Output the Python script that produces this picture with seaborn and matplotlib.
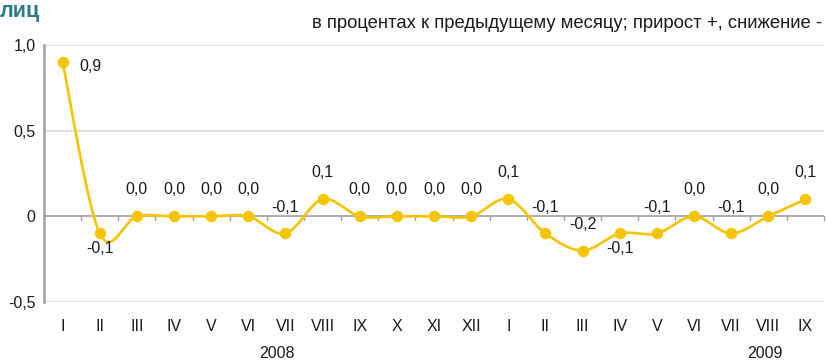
import numpy as np
import pandas as pd
import matplotlib
matplotlib.use("Agg")
import matplotlib.pyplot as plt
from matplotlib.path import Path
from matplotlib.patches import PathPatch
import seaborn as sns

months = ["I", "II", "III", "IV", "V", "VI", "VII", "VIII", "IX", "X", "XI", "XII",
          "I", "II", "III", "IV", "V", "VI", "VII", "VIII", "IX"]
values = [0.9, -0.1, 0.0, 0.0, 0.0, 0.0, -0.1, 0.1, 0.0, 0.0, 0.0, 0.0,
          0.1, -0.1, -0.2, -0.1, -0.1, 0.0, -0.1, 0.0, 0.1]
# where each value label sits relative to its point
label_pos = ["right", "below", "above", "above", "above", "above", "above", "above",
             "above", "above", "above", "above", "above", "above", "above", "below",
             "above", "above", "above", "above", "above"]
years = ["2008", "2009"]
year_x = [5.77, 18.9]
y_ticks = [-0.5, 0.0, 0.5, 1.0]
y_tick_labels = ["-0,5", "0", "0,5", "1,0"]
title = "лиц"
subtitle = "в процентах к предыдущему месяцу; прирост +, снижение -"

LINE = "#F5C400"
AXIS = "#A0A0A0"
GRID = "#D9D9D9"
TEXT = "#1a1a1a"
FS = 11.5

sns.set_theme(style="white")
plt.rcParams["font.family"] = ["Liberation Sans", "DejaVu Sans"]

df = pd.DataFrame({"x": np.arange(len(values)), "value": values})

fig = plt.figure(figsize=(8.28, 3.6), dpi=100)
ax = fig.add_axes([44 / 828, 1 - 302 / 360, 780 / 828, 257 / 360])

# smooth curve through the points (Catmull-Rom style cubic Bezier segments)
xs = df["x"].to_numpy(float)
ys = df["value"].to_numpy(float)
pts = np.column_stack([xs, ys])
verts = [pts[0]]
codes = [Path.MOVETO]
n = len(pts)
for i in range(n - 1):
    p0 = pts[i - 1] if i > 0 else pts[i]
    p1, p2 = pts[i], pts[i + 1]
    p3 = pts[i + 2] if i + 2 < n else pts[i + 1]
    c1 = p1 + (p2 - p0) / 6.0
    c2 = p2 - (p3 - p1) / 6.0
    verts += [c1, c2, p2]
    codes += [Path.CURVE4] * 3
ax.add_patch(PathPatch(Path(verts, codes), facecolor="none", edgecolor=LINE,
                       lw=1.9, zorder=3, capstyle="round", joinstyle="round"))

sns.scatterplot(data=df, x="x", y="value", ax=ax, color=LINE, s=68,
                edgecolor=LINE, linewidth=0, zorder=4, legend=False)

ax.set_xlim(-0.5, len(values) - 0.5)
ax.set_ylim(-0.5, 1.0)
ax.set_xlabel("")
ax.set_ylabel("")

for y in [-0.5, 0.5, 1.0]:
    ax.axhline(y, color=GRID, lw=1.2, zorder=1)
ax.axhline(0, color=AXIS, lw=1.2, zorder=2)
# tick marks on the zero line between categories
for k in range(len(values) + 1):
    ax.plot([k - 0.5, k - 0.5], [0, -0.022], color=AXIS, lw=1.0, zorder=2,
            clip_on=False)

for s in ["top", "right", "bottom"]:
    ax.spines[s].set_visible(False)
ax.spines["left"].set_color(AXIS)
ax.spines["left"].set_linewidth(1.8)

ax.set_yticks(y_ticks)
ax.set_yticklabels(y_tick_labels, fontsize=FS)
ax.tick_params(axis="y", length=0, pad=6, labelcolor=TEXT)
ax.set_xticks(df["x"])
ax.set_xticklabels(months, fontsize=FS)
ax.tick_params(axis="x", length=0, pad=12, labelcolor=TEXT)

for xi, v, pos in zip(df["x"], values, label_pos):
    txt = f"{v:.1f}".replace(".", ",")
    if pos == "right":
        ax.annotate(txt, (xi, v), xytext=(12, -3), textcoords="offset points",
                    ha="left", va="center", fontsize=FS, color=TEXT)
    elif pos == "below":
        ax.annotate(txt, (xi, v), xytext=(0, -11), textcoords="offset points",
                    ha="center", va="center", fontsize=FS, color=TEXT)
    else:
        ax.annotate(txt, (xi, v), xytext=(0, 19), textcoords="offset points",
                    ha="center", va="center", fontsize=FS, color=TEXT)

for yx, yl in zip(year_x, years):
    ax.annotate(yl, (yx, -0.5), xytext=(0, -37), textcoords="offset points",
                ha="center", va="center", fontsize=FS, color=TEXT)

fig.text(0, 1 - 1 / 360, title, ha="left", va="top", fontsize=15.5,
         fontweight="bold", color="#2A7A8E")
fig.text(822 / 828, 1 - 24 / 360, subtitle, ha="right", va="center", fontsize=13.3,
         color=TEXT)

fig.savefig("out.png", dpi=100)
